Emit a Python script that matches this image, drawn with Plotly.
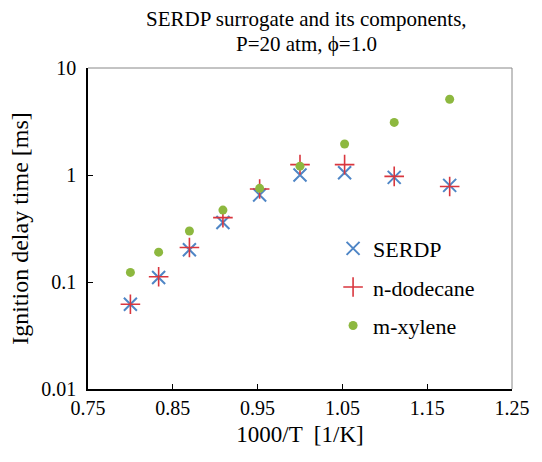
import plotly.graph_objects as go

inv_T = [0.8, 0.8333, 0.8696, 0.9091, 0.9524, 1.0, 1.0526, 1.1111, 1.1765]
serdp = [0.062, 0.110, 0.20, 0.36, 0.65, 1.0, 1.05, 0.95, 0.80]
dodecane = [0.062, 0.112, 0.21, 0.40, 0.74, 1.25, 1.25, 0.97, 0.78]
xylene = [0.123, 0.19, 0.30, 0.47, 0.75, 1.21, 1.95, 3.1, 5.1]

x_ticks = [0.75, 0.85, 0.95, 1.05, 1.15, 1.25]
y_ticks = [0.01, 0.1, 1, 10]
y_labels = ["0.01", "0.1", "1", "10"]
title_lines = ["SERDP surrogate and its components,", "P=20 atm, \u03d5=1.0"]

FONT = "Liberation Serif"

fig = go.Figure()
fig.add_trace(go.Scatter(x=inv_T, y=serdp, mode="markers", name="SERDP", legendgroup="a",
                         marker=dict(symbol="x-thin", size=13, line=dict(width=2, color="#4f86c6"), color="#4f86c6")))
fig.add_trace(go.Scatter(x=inv_T, y=dodecane, mode="markers", name="n-dodecane", legendgroup="b",
                         marker=dict(symbol="cross-thin", size=14, line=dict(width=1.6, color="#d9363e"), color="#d9363e")))
fig.add_trace(go.Scatter(x=inv_T, y=xylene, mode="markers", name="m-xylene", legendgroup="c",
                         marker=dict(symbol="circle", size=9, color="#8db83f")))

fig.update_layout(
    width=542, height=462,
    margin=dict(l=88, r=20, t=68, b=73),
    paper_bgcolor="white", plot_bgcolor="white",
    font=dict(family=FONT, size=20, color="black"),
    legend=dict(x=0.578, y=0.503, xanchor="left", yanchor="top", font=dict(family=FONT, size=22),
                bgcolor="rgba(0,0,0,0)", tracegroupgap=7, itemwidth=30),
    showlegend=True,
)
for txt, yy in zip(title_lines, [1.153, 1.075]):
    fig.add_annotation(text=txt, xref="paper", yref="paper", x=0.516, y=yy, xanchor="center",
                       yanchor="middle", showarrow=False, font=dict(family=FONT, size=21))
fig.update_xaxes(range=[0.75, 1.25], tickvals=x_ticks, ticktext=["0.75", "0.85", "0.95", "1.05", "1.15", "1.25"],
                 showgrid=False, zeroline=False, showline=True, linecolor="black", linewidth=1.5,
                 ticks="inside", ticklen=5, tickcolor="black", tickfont=dict(size=20),
                 title=dict(text="1000/T  [1/K]", font=dict(size=23), standoff=8))
fig.update_yaxes(type="log", range=[-2, 1], tickvals=y_ticks, ticktext=y_labels,
                 showgrid=False, zeroline=False, showline=True, linecolor="black", linewidth=1.5,
                 ticks="inside", ticklen=5, tickcolor="black", tickfont=dict(size=20),
                 ticklabelstandoff=6,
                 title=dict(text="Ignition delay time [ms]", font=dict(size=24), standoff=6))
fig.add_shape(type="line", xref="paper", yref="paper", x0=0, x1=1, y0=1, y1=1,
              line=dict(color="#888888", width=1))
fig.add_shape(type="line", xref="paper", yref="paper", x0=1, x1=1, y0=0, y1=1,
              line=dict(color="#888888", width=1))

fig.write_html("out.html")
